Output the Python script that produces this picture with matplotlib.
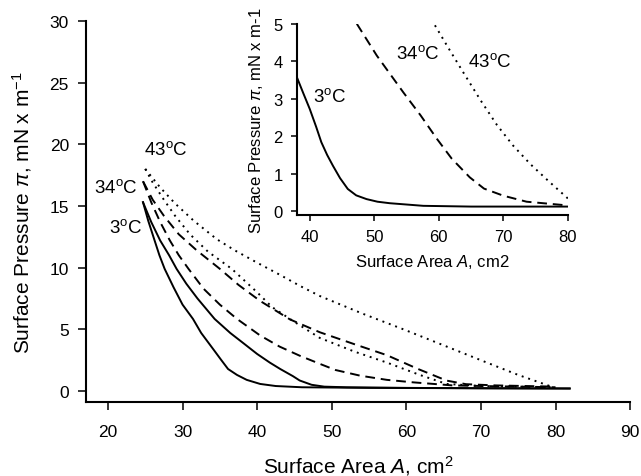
import matplotlib
matplotlib.use("Agg")
import matplotlib.pyplot as plt
import numpy as np

plt.rcParams['font.family'] = ['Liberation Sans', 'DejaVu Sans']
plt.rcParams['mathtext.fontset'] = 'custom'
plt.rcParams['mathtext.rm'] = 'Liberation Sans'
plt.rcParams['mathtext.it'] = 'Liberation Sans:italic'

# isotherms, two runs per temperature (area in cm2, pressure in mN/m)
area_3a = [24.7, 25.4, 26.2, 26.9, 27.6, 28.8, 30.0, 31.4, 32.5, 34.1, 35.2, 36.1,
           37.3, 38.6, 40.4, 42.5, 46.0, 55.0, 70.0, 81.9]
pres_3a = [15.3, 13.8, 12.3, 11.0, 9.9, 8.4, 7.0, 5.84, 4.7, 3.4, 2.5, 1.78,
           1.3, 0.9, 0.57, 0.4, 0.3, 0.25, 0.22, 0.2]
area_3b = [24.7, 25.8, 27.0, 28.2, 29.2, 30.5, 32.0, 34.3, 36.4, 38.1, 40.0, 41.7,
           43.1, 44.8, 45.7, 47.3, 49.0, 52.0, 60.0, 70.0, 81.9]
pres_3b = [15.3, 13.7, 12.2, 11.0, 9.9, 8.7, 7.5, 5.84, 4.7, 3.9, 3.0, 2.3,
           1.78, 1.2, 0.85, 0.5, 0.35, 0.3, 0.25, 0.22, 0.2]
area_34a = [24.7, 25.8, 27.0, 28.3, 29.5, 30.8, 32.8, 35.0, 37.3, 40.4, 43.0, 45.7,
            48.4, 50.5, 53.8, 57.4, 60.9, 66.2, 72.0, 80.0]
pres_34a = [17.0, 15.3, 13.7, 12.2, 11.0, 9.9, 8.3, 7.0, 5.84, 4.5, 3.6, 2.86,
            2.2, 1.7, 1.24, 0.9, 0.7, 0.45, 0.38, 0.3]
area_34b = [24.7, 26.0, 27.5, 29.5, 31.9, 35.0, 37.5, 40.4, 44.4, 48.4, 53.0, 57.4,
            61.5, 65.4, 68.0, 72.0, 80.0]
pres_34b = [17.0, 15.5, 14.2, 12.7, 11.4, 9.9, 8.6, 7.3, 5.8, 4.76, 3.8, 2.9,
            1.8, 0.84, 0.55, 0.45, 0.35]
area_43a = [25.0, 26.0, 27.5, 29.0, 31.0, 33.4, 36.6, 40.0, 42.0, 45.0, 48.4, 53.0,
            57.4, 61.8, 65.4, 70.0, 75.0, 80.0]
pres_43a = [18.0, 16.9, 15.5, 14.2, 12.7, 11.3, 9.9, 8.0, 6.8, 5.6, 4.3, 3.2,
            2.3, 1.3, 0.57, 0.4, 0.35, 0.3]
area_43b = [25.0, 27.0, 29.0, 31.5, 34.6, 37.0, 40.0, 43.1, 45.8, 48.4, 54.0, 59.6,
            65.0, 70.8, 75.0, 79.7]
pres_43b = [18.0, 16.5, 15.2, 13.8, 12.3, 11.4, 10.4, 9.4, 8.5, 7.7, 6.3, 5.0,
            3.7, 2.3, 1.3, 0.3]

# low-pressure detail
ins_area_3 = [38.0, 39.0, 40.0, 41.0, 41.8, 42.7, 43.6, 44.7, 45.9, 47.2, 48.8, 50.5,
              52.4, 57.6, 65.0, 72.0, 80.0]
ins_pres_3 = [3.58, 3.15, 2.73, 2.25, 1.84, 1.5, 1.21, 0.88, 0.59, 0.42, 0.32, 0.25,
              0.21, 0.14, 0.12, 0.12, 0.12]
ins_area_34 = [47.3, 50.4, 54.5, 57.2, 59.7, 62.0, 64.8, 67.0, 70.0, 73.6, 80.0]
ins_pres_34 = [5.0, 4.15, 3.17, 2.55, 1.93, 1.4, 0.9, 0.6, 0.41, 0.25, 0.15]
ins_area_43 = [59.4, 61.5, 63.8, 66.5, 69.0, 71.5, 74.2, 77.0, 80.1]
ins_pres_43 = [4.96, 4.35, 3.7, 2.95, 2.3, 1.75, 1.25, 0.8, 0.32]

temps = ['3', '34', '43']

solid = '-'
dashed = (0, (5, 3))
dotted = (0, (1, 2.5))

fig = plt.figure(figsize=(6.41, 4.77), dpi=100)

ax = fig.add_axes([0.1335, 0.155, 0.8495, 0.799])
ax.plot(area_3a, pres_3a, color='black', lw=1.4, ls=solid)
ax.plot(area_3b, pres_3b, color='black', lw=1.4, ls=solid)
ax.plot(area_34a, pres_34a, color='black', lw=1.4, ls=dashed)
ax.plot(area_34b, pres_34b, color='black', lw=1.4, ls=dashed)
ax.plot(area_43a, pres_43a, color='black', lw=1.4, ls=dotted)
ax.plot(area_43b, pres_43b, color='black', lw=1.4, ls=dotted)

ax.set_xlim(17, 90)
ax.set_ylim(-0.9, 30)
ax.set_xticks(np.arange(20, 91, 10))
ax.set_yticks(np.arange(0, 31, 5))
for s in ['top', 'right']:
    ax.spines[s].set_visible(False)
for s in ['left', 'bottom']:
    ax.spines[s].set_linewidth(1.5)
ax.tick_params(direction='out', length=6, width=1.1, labelsize=12.5)
ax.tick_params(axis='x', pad=10)
ax.tick_params(axis='y', pad=6)
ax.set_xlabel('Surface Area $A$, cm$^2$', fontsize=15, labelpad=10)
ax.set_ylabel('Surface Pressure $\\pi$, mN x m$^{-1}$', fontsize=15, labelpad=11)

ax.text(27.7, 19.6, temps[2] + '$^\\mathrm{o}$C', fontsize=13.5, ha='center', va='center')
ax.text(21.1, 16.5, temps[1] + '$^\\mathrm{o}$C', fontsize=13.5, ha='center', va='center')
ax.text(22.4, 13.3, temps[0] + '$^\\mathrm{o}$C', fontsize=13.5, ha='center', va='center')

ins = fig.add_axes([0.463, 0.547, 0.423, 0.401])
ins.plot(ins_area_3, ins_pres_3, color='black', lw=1.4, ls=solid)
ins.plot(ins_area_34, ins_pres_34, color='black', lw=1.4, ls=dashed)
ins.plot(ins_area_43, ins_pres_43, color='black', lw=1.4, ls=dotted)
ins.set_xlim(38, 80)
ins.set_ylim(-0.107, 5)
ins.set_xticks(np.arange(40, 81, 10))
ins.set_yticks(np.arange(0, 6, 1))
for s in ['top', 'right']:
    ins.spines[s].set_visible(False)
for s in ['left', 'bottom']:
    ins.spines[s].set_linewidth(1.5)
ins.tick_params(direction='out', length=4, width=1.1, labelsize=12, pad=6)
ins.set_xlabel('Surface Area $A$, cm2', fontsize=12, labelpad=6)
ins.set_ylabel('Surface Pressure $\\pi$, mN x m-1', fontsize=12, labelpad=6)

ins.text(43.1, 3.08, temps[0] + '$^\\mathrm{o}$C', fontsize=13.5, ha='center', va='center')
ins.text(56.7, 4.22, temps[1] + '$^\\mathrm{o}$C', fontsize=13.5, ha='center', va='center')
ins.text(67.9, 4.02, temps[2] + '$^\\mathrm{o}$C', fontsize=13.5, ha='center', va='center')

fig.savefig('out.png', dpi=100)
